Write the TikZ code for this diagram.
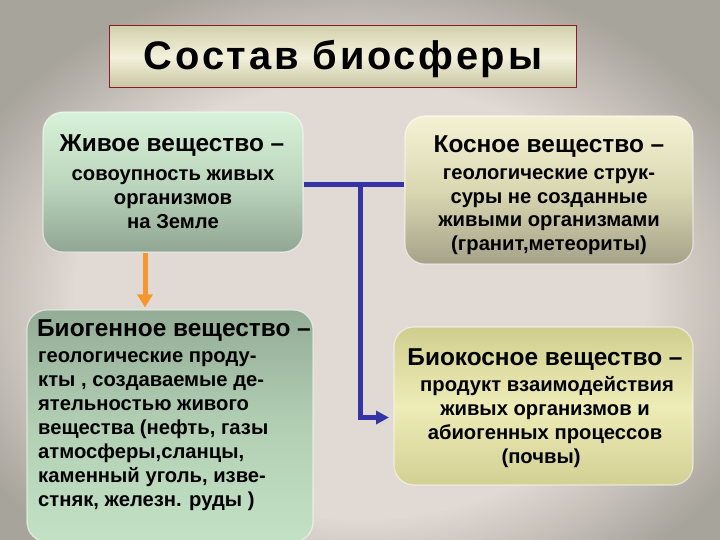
\documentclass[tikz,border=0pt]{standalone}
\usepackage{fontspec}
\setmainfont{Liberation Sans}
\usetikzlibrary{arrows.meta}
\definecolor{bgin}{HTML}{E1D9D3}
\definecolor{bgout}{HTML}{A7A49C}
\definecolor{linkblue}{HTML}{3434A6}
\definecolor{linkorange}{HTML}{F5962F}
\definecolor{titleborder}{HTML}{8B1A2B}
\definecolor{tiTop}{HTML}{D3D0AC}
\definecolor{tiMid}{HTML}{F3F1DC}
\definecolor{tiBot}{HTML}{C8C5A1}
\definecolor{zhTop}{HTML}{D8F1D9}
\definecolor{zhMid}{HTML}{BDD7BF}
\definecolor{zhBot}{HTML}{90A693}
\definecolor{koTop}{HTML}{F4F2D4}
\definecolor{koMid}{HTML}{DAD8B2}
\definecolor{koBot}{HTML}{A5A289}
\definecolor{bgTop}{HTML}{93AC96}
\definecolor{bgMid}{HTML}{B2CFB4}
\definecolor{bgBot}{HTML}{C3E2C5}
\definecolor{bkTop}{HTML}{D0CE8E}
\definecolor{bkMid}{HTML}{EEECB7}
\definecolor{bkBot}{HTML}{D3D094}
\pgfdeclareradialshading{bgshade}{\pgfpointorigin}{color(0bp)=(bgin); color(17bp)=(bgin); color(26bp)=(bgout); color(50bp)=(bgout)}
\begin{document}
\begin{tikzpicture}[x=1bp,y=-1bp,
  box/.style={shade, rounded corners=20bp, inner sep=0pt, draw=white, draw opacity=0.55, line width=1.2bp},
  head/.style={font=\bfseries\fontsize{24.5}{28}\selectfont, inner sep=0pt},
  body/.style={font=\bfseries\fontsize{20.3}{24}\selectfont, inner sep=0pt},
  conn/.style={line width=5.5bp, draw=linkblue},
]
\useasboundingbox (0,0) rectangle (720,540);
\shade[shading=bgshade] (-60,-20) rectangle (780,620);

% title
\node[shade, top color=tiTop, bottom color=tiBot, middle color=tiMid,
      draw=titleborder, line width=1bp, minimum width=466bp, minimum height=62bp, inner sep=0pt]
      (title) at (343,57) {};
\node[font=\bfseries\fontsize{40}{44}\selectfont\addfontfeature{LetterSpace=7}, anchor=base, inner sep=0pt] (titletext) at (343,70) {Состав биосферы};

% boxes
\node[box, top color=zhTop, bottom color=zhBot, middle color=zhMid,
      minimum width=260bp, minimum height=140bp] (zhivoe) at (173,182) {};
\node[box, top color=koTop, bottom color=koBot, middle color=koMid,
      minimum width=288bp, minimum height=148bp] (kosnoe) at (549,190) {};
\node[box, top color=bgTop, bottom color=bgBot, middle color=bgMid,
      minimum width=286bp, minimum height=232bp] (biogen) at (170,426) {};
\node[box, top color=bkTop, bottom color=bkBot, middle color=bkMid,
      minimum width=299bp, minimum height=158bp] (biokos) at (543.5,406) {};

% connectors
\coordinate (ox) at (145,0);
\draw[line width=5bp, draw=linkorange, -{Triangle[width=15bp,length=13bp]}]
  (zhivoe.south -| ox) -- ([yshift=2bp]biogen.north -| ox);
\draw[conn] (zhivoe.east |- 0,184.5) -- (kosnoe.west |- 0,184.5);
\coordinate (junction) at (360,184.5);
\coordinate (arrowend) at (389,417.5);
\draw[conn, line width=5bp, -{Triangle[width=13bp,length=13bp]}] (junction) |- (arrowend);

% Живое
\node[head, anchor=base] (zh0) at (172,152) {Живое вещество –};
\node[body, anchor=base] (zh1) at (173,181) {совоупность живых};
\node[body, anchor=base] (zh2) at (173,205) {организмов};
\node[body, anchor=base] (zh3) at (173,228.5) {на Земле};

% Косное
\node[head, anchor=base] (ko0) at (549,153) {Косное вещество –};
\node[body, anchor=base] (ko1) at (549,180) {геологические струк-};
\node[body, anchor=base] (ko2) at (549,203.5) {суры не созданные};
\node[body, anchor=base] (ko3) at (549,227) {живыми организмами};
\node[body, anchor=base] (ko4) at (549,250.5) {(гранит,метеориты)};

% Биогенное
\node[head, anchor=base west] (bg0) at (37,336) {Биогенное вещество –};
\node[body, anchor=base west] (bg1) at (38,362) {геологические проду-};
\node[body, anchor=base west] (bg2) at (38,386) {кты , создаваемые де-};
\node[body, anchor=base west] (bg3) at (38,410) {ятельностью живого};
\node[body, anchor=base west] (bg4) at (38,434) {вещества (нефть, газы};
\node[body, anchor=base west] (bg5) at (38,458) {атмосферы,сланцы,};
\node[body, anchor=base west] (bg6) at (38,482) {каменный уголь, изве-};
\node[body, anchor=base west] (bg7) at (38,506) {стняк, железн. руды )};

% Биокосное
\node[head, anchor=base] (bk0) at (545,365) {Биокосное вещество –};
\node[body, anchor=base] (bk1) at (547,391) {продукт взаимодействия};
\node[body, anchor=base] (bk2) at (545,415.5) {живых организмов и};
\node[body, anchor=base] (bk3) at (545,439.5) {абиогенных процессов};
\node[body, anchor=base] (bk4) at (541,463.5) {(почвы)};
\end{tikzpicture}
\end{document}
